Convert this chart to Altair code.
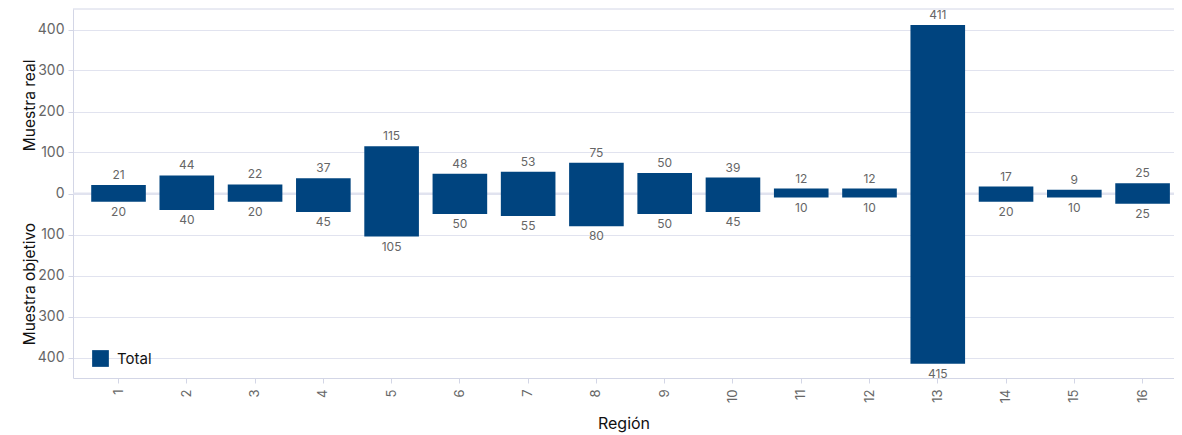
import altair as alt
import pandas as pd

regions = [str(i) for i in range(1, 17)]
real = [21, 44, 22, 37, 115, 48, 53, 75, 50, 39, 12, 12, 411, 17, 9, 25]
objetivo = [20, 40, 20, 45, 105, 50, 55, 80, 50, 45, 10, 10, 415, 20, 10, 25]
series = "Total"
y_ticks = [-400, -300, -200, -100, 0, 100, 200, 300, 400]
y_titles = ["Muestra real", "Muestra objetivo"]
y_title_pos = [215, -221]

df = pd.DataFrame({
    "Región": regions,
    "real": real,
    "objetivo": objetivo,
    "neg": [-v for v in objetivo],
    "serie": [series] * len(regions),
})
titles = pd.DataFrame({"t": y_titles, "v": y_title_pos})
zero = pd.DataFrame({"z": [0]})
top = pd.DataFrame({"z": [450]})

BLUE = "#00447f"
GRID = "#e1e3ef"
DOMAIN = "#d3d6e6"
FONT = "Inter"

xenc = alt.X("Región:N", sort=regions, title="Región",
             scale=alt.Scale(paddingInner=0.2, paddingOuter=0.1635, align=0.816),
             axis=alt.Axis(labelAngle=-90, labelColor="#666", labelFontSize=13,
                           titleFontSize=16, titleFontWeight="normal", titleColor="#111",
                           titlePadding=13, domainColor=DOMAIN, tickColor=DOMAIN,
                           labelPadding=6, grid=False))
yscale = alt.Scale(domain=[-450, 450], nice=False)

bars = alt.Chart(df).mark_bar().encode(
    x=xenc,
    y=alt.Y("real:Q", scale=yscale, title=None,
            axis=alt.Axis(values=y_ticks,
                          labelExpr="abs(datum.value)", labelColor="#666",
                          labelFontSize=14, gridColor=GRID, domainColor=DOMAIN,
                          tickColor=DOMAIN, labelPadding=4)),
    y2="neg:Q",
    color=alt.Color("serie:N", scale=alt.Scale(range=[BLUE]),
                    legend=alt.Legend(title=None, orient="none", legendX=19, legendY=341,
                                      symbolType="square", symbolSize=280, symbolStrokeWidth=0,
                                      labelFontSize=15, labelColor="#111", labelOffset=8,
                                      symbolOpacity=1)),
)

zero_rule = alt.Chart(zero).mark_rule(color=GRID, strokeWidth=2).encode(
    y=alt.Y("z:Q", scale=yscale))
top_rule = alt.Chart(top).mark_rule(color=DOMAIN, strokeWidth=1).encode(
    y=alt.Y("z:Q", scale=yscale))

top_lbl = alt.Chart(df).mark_text(baseline="alphabetic", dy=-6, fontSize=12, color="#666", font=FONT).encode(
    x=alt.X("Región:N", sort=regions), y=alt.Y("real:Q", scale=yscale), text="real:Q")
bot_lbl = alt.Chart(df).mark_text(baseline="top", dy=5, fontSize=12, color="#666", font=FONT).encode(
    x=alt.X("Región:N", sort=regions), y=alt.Y("neg:Q", scale=yscale), text="objetivo:Q")

ytitles = alt.Chart(titles).mark_text(angle=270, fontSize=15.5, color="#111", font=FONT,
                                      align="center", baseline="middle").encode(
    x=alt.value(-43), y=alt.Y("v:Q", scale=yscale), text="t:N")

chart = alt.layer(zero_rule, top_rule, bars, top_lbl, bot_lbl, ytitles).properties(
    width=1101, height=369,
    autosize=alt.AutoSizeParams(type="none"),
    padding={"left": 65, "top": 1, "right": 0, "bottom": 56},
).configure(font=FONT).configure_view(strokeWidth=0)

chart.save("out.html", embed_options={"renderer": "svg", "actions": False})
